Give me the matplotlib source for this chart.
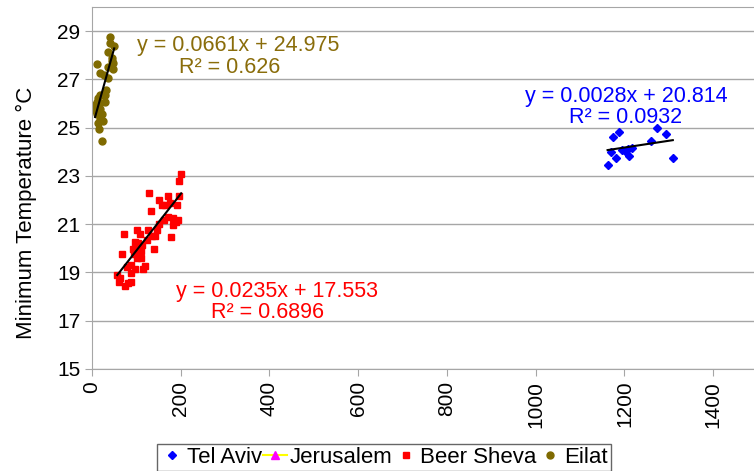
import numpy as np
import matplotlib
matplotlib.use("Agg")
import matplotlib.pyplot as plt

plt.rcParams["font.family"] = ["Liberation Sans", "DejaVu Sans"]

# data (x: unknown quantity, y: minimum temperature)
tel_aviv_x = [1274, 1187, 1174, 1294, 1260, 1170, 1202, 1217, 1207, 1181, 1211, 1309, 1162, 1195]
tel_aviv_y = [24.97, 24.80, 24.63, 24.73, 24.44, 23.99, 24.02, 24.16, 24.13, 23.76, 23.84, 23.74, 23.47, 24.06]

beer_sheva_x = [201, 195, 129, 171, 196, 151, 158, 165, 176, 192, 133, 172, 183, 189, 162,
                182, 193, 150, 127, 146, 101, 72, 108, 135, 142, 178, 123, 97, 104, 112,
                93, 101, 140, 110, 68, 95, 101, 110, 87, 80, 120, 116, 98, 89, 57, 63,
                89, 62, 82, 74]
beer_sheva_y = [23.07, 22.78, 22.28, 22.18, 22.18, 21.99, 21.81, 21.81, 21.89, 21.81, 21.56,
                21.29, 21.27, 21.09, 21.16, 20.98, 21.16, 21.02, 20.77, 20.77, 20.77, 20.61,
                20.58, 20.49, 20.49, 20.46, 20.33, 20.27, 20.22, 20.12, 19.98, 19.98, 19.98,
                19.88, 19.78, 19.78, 19.61, 19.59, 19.29, 19.22, 19.25, 19.15, 19.15, 18.97,
                18.88, 18.78, 18.60, 18.60, 18.56, 18.43]

eilat_x = [40, 41, 50, 35, 12, 44, 48, 37, 48, 18, 27, 37, 32, 18, 14, 30, 30, 11, 7, 18,
           18, 22, 18, 24, 14, 16, 22, 11, 10, 45]
eilat_y = [28.77, 28.49, 28.39, 28.14, 27.62, 27.87, 27.66, 27.52, 27.41, 27.27, 27.17,
           27.06, 26.55, 26.34, 26.21, 26.34, 26.07, 26.07, 25.93, 26.00, 25.76, 25.58,
           25.37, 25.28, 25.17, 24.96, 24.45, 25.58, 25.70, 27.75]

# trendline coefficients as printed on the chart
slopes = {"Tel Aviv": 0.0028, "Beer Sheva": 0.0235, "Eilat": 0.0661}
intercepts = {"Tel Aviv": 20.814, "Beer Sheva": 17.553, "Eilat": 24.975}
r2_labels = {"Tel Aviv": "0.0932", "Beer Sheva": "0.6896", "Eilat": "0.626"}

fig = plt.figure(figsize=(7.54, 4.71), dpi=100)
ax = fig.add_axes([0.122, 0.2166, 0.878, 0.7688])

gray = "#a6a6a6"
ax.set_xlim(0, 1492)
ax.set_ylim(15, 30)
ax.set_yticks(np.arange(15, 30, 2))
ax.set_xticks(np.arange(0, 1401, 200))
ax.grid(axis="y", color=gray, lw=1)
ax.set_axisbelow(True)
for side in ["left", "bottom", "top"]:
    ax.spines[side].set_color(gray)
ax.spines["right"].set_visible(False)
ax.tick_params(colors=gray, labelcolor="black", labelsize=15, length=5)
ax.tick_params(axis="x", rotation=90)
ax.set_ylabel("Minimum Temperature °C", fontsize=16)
ax.yaxis.set_label_coords(-0.083, 0.43)

c_ta, c_bs, c_ei = "#0000ff", "#ff0000", "#7f6a00"
text_ei = "#8a6d0b"

ax.plot(tel_aviv_x, tel_aviv_y, ls="none", marker="D", ms=4.2, color=c_ta, label="Tel Aviv")
ax.plot([], [], color="#ffff00", marker="^", ms=6, mfc="#ff00ff", mec="#ff00ff", lw=1.5,
        label="Jerusalem")
ax.plot(beer_sheva_x, beer_sheva_y, ls="none", marker="s", ms=4, color=c_bs, label="Beer Sheva")
ax.plot(eilat_x, eilat_y, ls="none", marker="o", ms=5, color=c_ei, label="Eilat")

series = {"Tel Aviv": tel_aviv_x, "Beer Sheva": beer_sheva_x, "Eilat": eilat_x}
for name, xs in series.items():
    xx = np.array([min(xs), max(xs)])
    ax.plot(xx, slopes[name] * xx + intercepts[name], color="black", lw=1.5)

# equation labels
labels = [("Eilat", 329, 28.40, 310, 27.47, text_ei),
          ("Tel Aviv", 1204, 26.28, 1203, 25.43, c_ta),
          ("Beer Sheva", 416, 18.19, 396, 17.36, c_bs)]
for name, x1, y1, x2, y2, col in labels:
    ax.text(x1, y1, f"y = {slopes[name]:.4f}x + {intercepts[name]}", color=col,
            fontsize=15.5, ha="center", va="center")
    ax.text(x2, y2, f"R² = {r2_labels[name]}", color=col, fontsize=15.5,
            ha="center", va="center")

leg = fig.legend(loc="upper center", bbox_to_anchor=(0.509, 0.058), ncol=4, fontsize=16,
                 handlelength=1.1, handletextpad=0.1, columnspacing=0.05,
                 borderpad=0.15, borderaxespad=0, fancybox=False, frameon=True)
leg.get_frame().set_edgecolor("#404040")
leg.get_frame().set_linewidth(1)

fig.savefig("out.png", dpi=100)
